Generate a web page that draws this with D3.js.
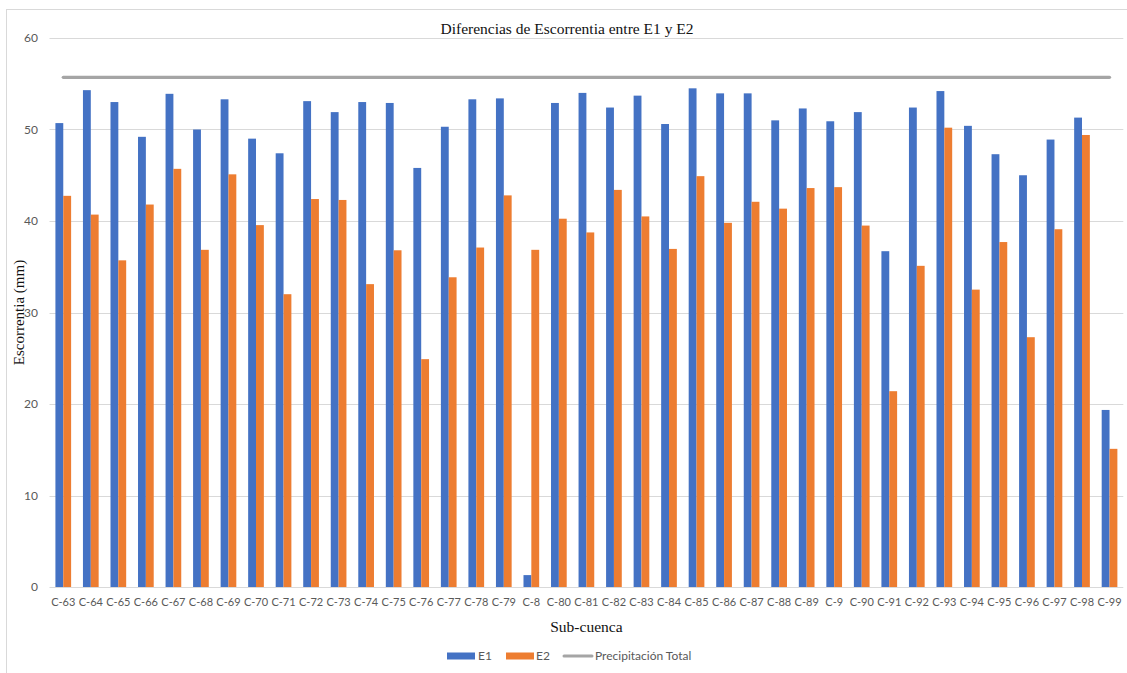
<!DOCTYPE html>
<html>
<head>
<meta charset="utf-8">
<script src="https://cdn.jsdelivr.net/npm/d3@7"></script>
<style>
  html, body { margin: 0; padding: 0; background: #fff; }
  svg { display: block; }
</style>
</head>
<body>
<svg id="chart" width="1127" height="673"></svg>
<script>
const categories = ["C-63","C-64","C-65","C-66","C-67","C-68","C-69","C-70","C-71","C-72","C-73","C-74","C-75","C-76","C-77","C-78","C-79","C-8","C-80","C-81","C-82","C-83","C-84","C-85","C-86","C-87","C-88","C-89","C-9","C-90","C-91","C-92","C-93","C-94","C-95","C-96","C-97","C-98","C-99"];
const e1 = [50.7,54.3,53.0,49.2,53.9,50.0,53.3,49.0,47.4,53.1,51.9,53.0,52.9,45.8,50.3,53.3,53.4,1.3,52.9,54.0,52.4,53.7,50.6,54.5,53.95,53.95,51.0,52.3,50.9,51.9,36.7,52.4,54.2,50.4,47.3,45.0,48.9,51.3,19.35];
const e2 = [42.75,40.7,35.7,41.8,45.7,36.85,45.1,39.55,32.0,42.4,42.3,33.1,36.8,24.9,33.85,37.1,42.8,36.85,40.25,38.75,43.4,40.5,36.95,44.9,39.8,42.1,41.35,43.6,43.7,39.5,21.4,35.1,50.2,32.5,37.7,27.3,39.1,49.4,15.1];
const precipTotal = [55.7,55.7,55.7,55.7,55.7,55.7,55.7,55.7,55.7,55.7,55.7,55.7,55.7,55.7,55.7,55.7,55.7,55.7,55.7,55.7,55.7,55.7,55.7,55.7,55.7,55.7,55.7,55.7,55.7,55.7,55.7,55.7,55.7,55.7,55.7,55.7,55.7,55.7,55.7];
const yTicks = [0,10,20,30,40,50,60];
const seriesNames = ["E1","E2","Precipitación Total"];
const colors = {E1: "#4472C4", E2: "#ED7D31", P: "#A5A5A5"};

const svg = d3.select("#chart");
const plot = {left: 49.5, right: 1123.3, top: 38, bottom: 587};

// chart frame
svg.append("rect").attr("x", 6.5).attr("y", 9.5).attr("width", 1140).attr("height", 680)
  .attr("fill", "none").attr("stroke", "#d9d9d9").attr("stroke-width", 1);

const x = d3.scaleBand().domain(categories).range([plot.left, plot.right]).paddingInner(0).paddingOuter(0);
const y = d3.scaleLinear().domain([0, 60]).range([plot.bottom, plot.top]);
const barW = x.bandwidth() * 0.285;

// gridlines
svg.append("g").selectAll("line").data(yTicks).join("line")
  .attr("x1", plot.left).attr("x2", plot.right)
  .attr("y1", d => Math.round(y(d)) + 0.5).attr("y2", d => Math.round(y(d)) + 0.5)
  .attr("stroke", "#d9d9d9").attr("stroke-width", 1);

// y axis labels
const yAxis = d3.axisLeft(y).tickValues(yTicks).tickSize(0).tickPadding(0).tickFormat(d3.format("d"));
const yg = svg.append("g").attr("transform", `translate(${38},0)`).call(yAxis);
yg.select(".domain").remove();
yg.selectAll("text").attr("font-family", "Lato, 'Liberation Sans', sans-serif").attr("font-size", 12).attr("fill", "#595959");

// bars
const bars = svg.append("g");
bars.selectAll("rect.e1").data(categories).join("rect").attr("class", "e1")
  .attr("x", d => x(d) + x.bandwidth()/2 - barW)
  .attr("width", barW)
  .attr("y", (d, i) => y(e1[i]))
  .attr("height", (d, i) => y(0) - y(e1[i]))
  .attr("fill", colors.E1);
bars.selectAll("rect.e2").data(categories).join("rect").attr("class", "e2")
  .attr("x", d => x(d) + x.bandwidth()/2)
  .attr("width", barW)
  .attr("y", (d, i) => y(e2[i]))
  .attr("height", (d, i) => y(0) - y(e2[i]))
  .attr("fill", colors.E2);

// precipitation line
const line = d3.line().x((d, i) => x(categories[i]) + x.bandwidth()/2).y(d => y(d));
svg.append("path").datum(precipTotal).attr("d", line)
  .attr("fill", "none").attr("stroke", colors.P).attr("stroke-width", 3.2).attr("stroke-linecap", "round");

// x axis labels
const xAxis = d3.axisBottom(x).tickSize(0).tickPadding(0);
const xg = svg.append("g").attr("transform", `translate(0,${plot.bottom + 11})`).call(xAxis);
xg.select(".domain").remove();
xg.selectAll("text").attr("font-family", "Lato, 'Liberation Sans', sans-serif").attr("font-size", 11).attr("fill", "#595959");

// titles
svg.append("text").attr("x", 567).attr("y", 34).attr("text-anchor", "middle")
  .attr("font-family", "'Liberation Serif', 'Times New Roman', serif").attr("font-size", 15.5).attr("fill", "#111")
  .text("Diferencias de Escorrentia entre E1 y E2");
svg.append("text").attr("x", (plot.left + plot.right)/2).attr("y", 632).attr("text-anchor", "middle")
  .attr("font-family", "'Liberation Serif', 'Times New Roman', serif").attr("font-size", 15.5).attr("fill", "#111")
  .text("Sub-cuenca");
svg.append("text").attr("transform", `translate(24,${(plot.top + plot.bottom)/2}) rotate(-90)`).attr("text-anchor", "middle")
  .attr("font-family", "'Liberation Serif', 'Times New Roman', serif").attr("font-size", 15).attr("fill", "#111")
  .text("Escorrentia (mm)");

// legend
const legend = svg.append("g").attr("font-family", "Lato, 'Liberation Sans', sans-serif").attr("font-size", 12).attr("fill", "#595959");
const ly = 656;
legend.append("rect").attr("x", 447).attr("y", ly - 3.5).attr("width", 28).attr("height", 7).attr("fill", colors.E1);
legend.append("text").attr("x", 478).attr("y", ly + 4).text(seriesNames[0]);
legend.append("rect").attr("x", 506).attr("y", ly - 3.5).attr("width", 28).attr("height", 7).attr("fill", colors.E2);
legend.append("text").attr("x", 536).attr("y", ly + 4).text(seriesNames[1]);
legend.append("line").attr("x1", 564).attr("x2", 592).attr("y1", ly).attr("y2", ly)
  .attr("stroke", colors.P).attr("stroke-width", 3).attr("stroke-linecap", "round");
legend.append("text").attr("x", 595).attr("y", ly + 4).text(seriesNames[2]);
</script>
</body>
</html>
